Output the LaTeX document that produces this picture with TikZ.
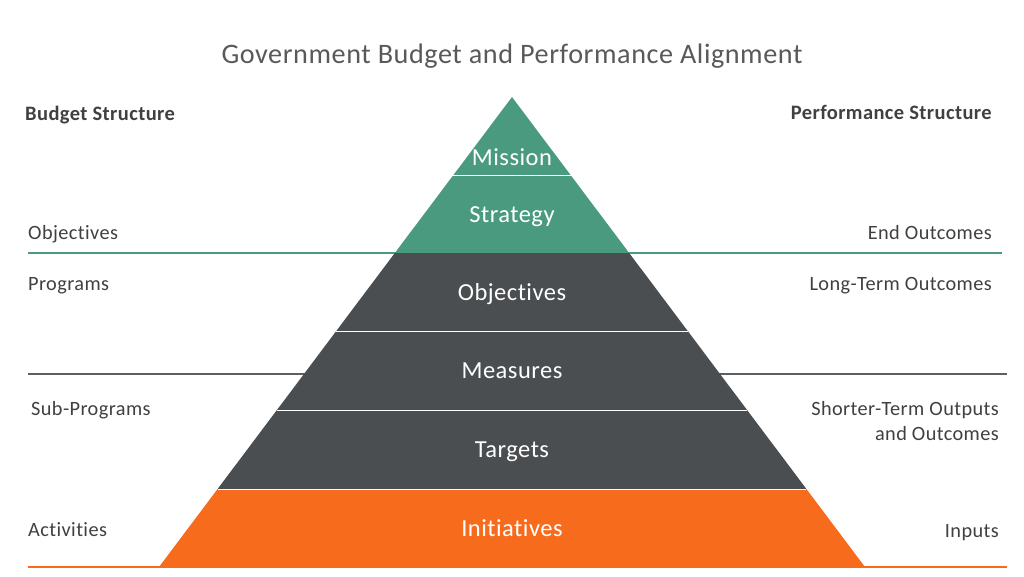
\documentclass[tikz,border=0pt]{standalone}
\usepackage{fontspec}
\setmainfont[Ligatures=NoCommon,LetterSpace=2]{Carlito}
\definecolor{kgreen}{HTML}{4A9A80}
\definecolor{kdark}{HTML}{4A4E51}
\definecolor{korange}{HTML}{F76B1C}
\definecolor{ktext}{HTML}{404040}
\definecolor{ktitle}{HTML}{595959}
\tikzset{
  laylab/.style={anchor=base,text=white,font=\fontsize{24.5}{28}\selectfont,inner sep=0pt},
  sidel/.style={anchor=base west,text=ktext,font=\fontsize{20.3}{24}\selectfont,inner sep=0pt},
  sider/.style={anchor=base east,text=ktext,font=\fontsize{20.3}{24}\selectfont,inner sep=0pt,align=right},
  head/.style={text=ktext,font=\bfseries\fontsize{20.5}{24}\selectfont,inner sep=0pt},
}
\begin{document}
\begin{tikzpicture}[x=1pt,y=-1pt]
\useasboundingbox (0,0) rectangle (1024,576);
\pgfmathsetmacro{\ktop}{97}
\pgfmathsetmacro{\kbase}{567}
\pgfmathsetmacro{\kslope}{353/(\kbase-\ktop)}
\pgfmathsetmacro{\kmid}{512}
% guide lines
\draw[kgreen,line width=1.5pt](28,253)coordinate(gA)--(1002,253)coordinate(gB);
\draw[kdark!90,line width=1.5pt](28,374)coordinate(dA)--(1007,374)coordinate(dB);
\draw[korange,line width=2pt](28,567)coordinate(oA)--(1007,567)coordinate(oB);
% pyramid layers
\foreach \ya/\yb/\col in {97/175/kgreen,175/253/kgreen,253/331/kdark,331/410/kdark,410/489/kdark,489/567/korange}{
  \pgfmathsetmacro{\wa}{\kslope*(\ya-\ktop)}
  \pgfmathsetmacro{\wb}{\kslope*(\yb-\ktop)}
  \fill[\col](\kmid-\wa,\ya)--(\kmid+\wa,\ya)--(\kmid+\wb,\yb)--(\kmid-\wb,\yb)--cycle;
}
\foreach \y in {175,331,410,489}{
  \pgfmathsetmacro{\wa}{\kslope*(\y-\ktop)}
  \draw[white,line width=1pt](\kmid-\wa,\y)--(\kmid+\wa,\y);
}
\foreach \nm/\y/\lb in {lm/165/Mission,ls/222/Strategy,lo/300/Objectives,lme/378/Measures,lt/457/Targets,li/536/Initiatives}{
  \node[laylab](\nm) at (\kmid,\y){\lb};
}
% texts
\node[anchor=base,text=ktitle,font=\fontsize{28.2}{32}\selectfont,inner sep=0pt](title) at (512,63){Government Budget and Performance Alignment};
\node[head,anchor=base west](bs) at (25,120){Budget Structure};
\node[head,anchor=base east](ps) at (992,119){Performance Structure};
\node[sidel](b1) at (28,239){Objectives};
\node[sidel](b2) at (28,290){Programs};
\node[sidel](b3) at (31,415){Sub-Programs};
\node[sidel](b4) at (28,536){Activities};
\node[sider](p1) at (992,239){End Outcomes};
\node[sider](p2) at (992,290){Long-Term Outcomes};
\node[sider](p3) at (999,415){Shorter-Term Outputs};
\node[sider](p3b) at (999,440){and Outcomes};
\node[sider](p4) at (999,537){Inputs};
\end{tikzpicture}
\end{document}
